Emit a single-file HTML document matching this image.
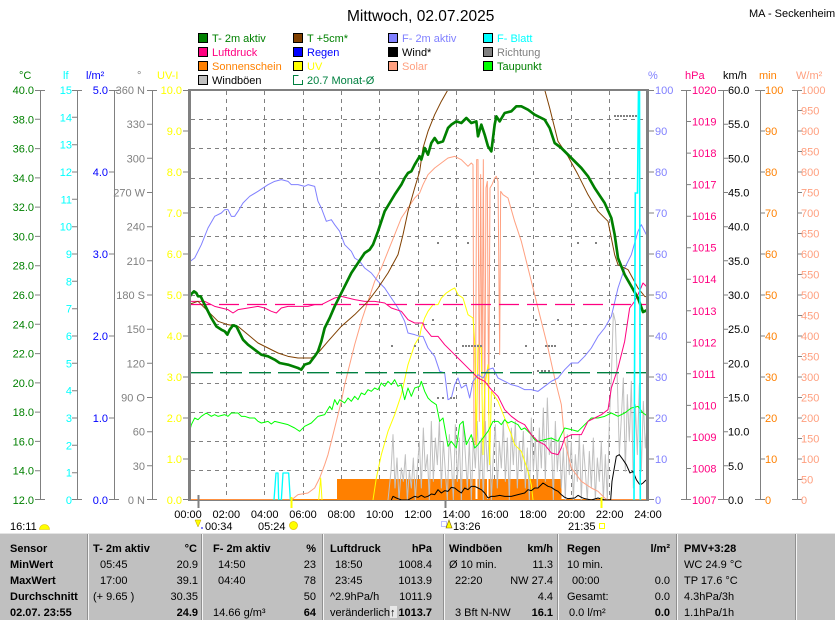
<!DOCTYPE html>
<html><head><meta charset="utf-8">
<style>
html,body{margin:0;padding:0;background:#fff;}
svg{display:block;}
text{font-family:"Liberation Sans",Arial,sans-serif;font-size:11px;}
.b{font-weight:bold;}
</style></head><body>
<svg width="835" height="620" viewBox="0 0 835 620" xmlns="http://www.w3.org/2000/svg">
<defs><clipPath id="pc"><rect x="191" y="91" width="455" height="409"/></clipPath></defs>
<rect width="835" height="620" fill="#fff"/>

<!-- Title -->
<text x="347" y="21" style="font-size:15.5px">Mittwoch, 02.07.2025</text>
<text x="749" y="17">MA - Seckenheim</text>

<!-- Legend -->
<g stroke="#000" stroke-width="1">
<rect x="198.5" y="33.5" width="9" height="9" fill="#008000"/>
<rect x="198.5" y="47.5" width="9" height="9" fill="#ff0080"/>
<rect x="198.5" y="61.5" width="9" height="9" fill="#ff8000"/>
<rect x="198.5" y="75.5" width="9" height="9" fill="#c0c0c0"/>
<rect x="293.5" y="33.5" width="9" height="9" fill="#804000"/>
<rect x="293.5" y="47.5" width="9" height="9" fill="#0000ff"/>
<rect x="293.5" y="61.5" width="9" height="9" fill="#ffff00"/>
<rect x="388.5" y="33.5" width="9" height="9" fill="#8080ff"/>
<rect x="388.5" y="47.5" width="9" height="9" fill="#000000"/>
<rect x="388.5" y="61.5" width="9" height="9" fill="#ffa080"/>
<rect x="483.5" y="33.5" width="9" height="9" fill="#00ffff"/>
<rect x="483.5" y="47.5" width="9" height="9" fill="#808080"/>
<rect x="483.5" y="61.5" width="9" height="9" fill="#00ff00"/>
</g>
<path d="M298.5 75.5H293.5V84.5H302.5V80" fill="none" stroke="#008040" stroke-width="1"/>
<text x="212" y="42" fill="#008000">T- 2m aktiv</text>
<text x="212" y="56" fill="#ff0080">Luftdruck</text>
<text x="212" y="70" fill="#ff8000">Sonnenschein</text>
<text x="212" y="84" fill="#000">Windböen</text>
<text x="307" y="42" fill="#008000">T +5cm*</text>
<text x="307" y="56" fill="#0000ff">Regen</text>
<text x="307" y="70" fill="#ffff00">UV</text>
<text x="307" y="84" fill="#008040">20.7 Monat-Ø</text>
<text x="402" y="42" fill="#8080ff">F- 2m aktiv</text>
<text x="402" y="56" fill="#000">Wind*</text>
<text x="402" y="70" fill="#ffa080">Solar</text>
<text x="497" y="42" fill="#00ffff">F- Blatt</text>
<text x="497" y="56" fill="#808080">Richtung</text>
<text x="497" y="70" fill="#008000">Taupunkt</text>

<!-- Units -->
<text x="19" y="79" fill="#008000">°C</text>
<text x="63" y="79" fill="#00ffff">lf</text>
<text x="86" y="79" fill="#0000ff">l/m²</text>
<text x="137" y="79" fill="#808080">°</text>
<text x="157" y="79" fill="#ffff00">UV-I</text>
<text x="648" y="79" fill="#8080ff">%</text>
<text x="685" y="79" fill="#ff0080">hPa</text>
<text x="723" y="79" fill="#000">km/h</text>
<text x="759" y="79" fill="#ff8000">min</text>
<text x="796" y="79" fill="#ffa080">W/m²</text>

<!-- Axis lines -->
<g stroke="#808080" stroke-width="1" fill="none">
<path d="M40.5 90V500M77.5 90V500M114.5 90V500M152.5 90V500M686.5 90V500M723.5 90V500M760.5 90V500M797.5 90V500"/>
<path d="M35 90.5H45M35 119.3H40M35 148.6H40M35 177.9H40M35 207.1H40M35 236.4H40M35 265.7H40M35 295H40M35 324.3H40M35 353.6H40M35 382.9H40M35 412.1H40M35 441.4H40M35 470.7H40M35 499.5H45"/>
<path d="M72 90.5H82M72 117.3H77M72 144.7H77M72 172H77M72 199.3H77M72 226.7H77M72 254H77M72 281.3H77M72 308.7H77M72 336H77M72 363.3H77M72 390.7H77M72 418H77M72 445.3H77M72 472.7H77M72 499.5H82"/>
<path d="M109 90.5H119M109 172H114M109 254H114M109 336H114M109 418H114M109 499.5H119"/>
<path d="M147 90.5H157M147 124.2H152M147 158.3H152M147 192.5H152M147 226.7H152M147 260.8H152M147 295H152M147 329.2H152M147 363.3H152M147 397.5H152M147 431.7H152M147 465.8H152M147 499.5H157"/>
<path d="M183 90.5H188M183 131H188M183 172H188M183 213H188M183 254H188M183 295H188M183 336H188M183 377H188M183 418H188M183 459H188M183 499.5H188"/>
<path d="M648 90.5H654M649 131H654M649 172H654M649 213H654M649 254H654M649 295H654M649 336H654M649 377H654M649 418H654M649 459H654M648 499.5H654"/>
<path d="M681 90.5H691M686 121.5H691M686 153.1H691M686 184.6H691M686 216.2H691M686 247.7H691M686 279.2H691M686 310.8H691M686 342.3H691M686 373.8H691M686 405.4H691M686 436.9H691M686 468.5H691M681 499.5H691"/>
<path d="M718 90.5H728M723 124.2H728M723 158.3H728M723 192.5H728M723 226.7H728M723 260.8H728M723 295H728M723 329.2H728M723 363.3H728M723 397.5H728M723 431.7H728M723 465.8H728M718 499.5H728"/>
<path d="M755 90.5H765M760 131H765M760 172H765M760 213H765M760 254H765M760 295H765M760 336H765M760 377H765M760 418H765M760 459H765M755 499.5H765"/>
<path d="M792 90.5H802M797 110.5H802M797 131H802M797 151.5H802M797 172H802M797 192.5H802M797 213H802M797 233.5H802M797 254H802M797 274.5H802M797 295H802M797 315.5H802M797 336H802M797 356.5H802M797 377H802M797 397.5H802M797 418H802M797 438.5H802M797 459H802M797 479.5H802M792 499.5H802"/>
</g>

<!-- Left labels -->
<g fill="#008000" text-anchor="end">
<text x="34" y="94">40.0</text><text x="34" y="123.3">38.0</text><text x="34" y="152.6">36.0</text><text x="34" y="181.9">34.0</text><text x="34" y="211.1">32.0</text><text x="34" y="240.4">30.0</text><text x="34" y="269.7">28.0</text><text x="34" y="299">26.0</text><text x="34" y="328.3">24.0</text><text x="34" y="357.6">22.0</text><text x="34" y="386.9">20.0</text><text x="34" y="416.1">18.0</text><text x="34" y="445.4">16.0</text><text x="34" y="474.7">14.0</text><text x="34" y="504">12.0</text>
</g>
<g fill="#00ffff" text-anchor="end">
<text x="72" y="94">15</text><text x="72" y="121.3">14</text><text x="72" y="148.7">13</text><text x="72" y="176">12</text><text x="72" y="203.3">11</text><text x="72" y="230.7">10</text><text x="72" y="258">9</text><text x="72" y="285.3">8</text><text x="72" y="312.7">7</text><text x="72" y="340">6</text><text x="72" y="367.3">5</text><text x="72" y="394.7">4</text><text x="72" y="422">3</text><text x="72" y="449.3">2</text><text x="72" y="476.7">1</text><text x="72" y="504">0</text>
</g>
<g fill="#0000ff" text-anchor="end">
<text x="108" y="94">5.0</text><text x="108" y="176">4.0</text><text x="108" y="258">3.0</text><text x="108" y="340">2.0</text><text x="108" y="422">1.0</text><text x="108" y="504">0.0</text>
</g>
<g fill="#808080" text-anchor="end">
<text x="145" y="94">360 N</text><text x="145" y="128.2">330</text><text x="145" y="162.3">300</text><text x="145" y="196.5">270 W</text><text x="145" y="230.7">240</text><text x="145" y="264.8">210</text><text x="145" y="299">180 S</text><text x="145" y="333.2">150</text><text x="145" y="367.3">120</text><text x="145" y="401.5">90 O</text><text x="145" y="435.7">60</text><text x="145" y="469.8">30</text><text x="145" y="504">0  N</text>
</g>
<g fill="#ffff00" text-anchor="end">
<text x="182" y="94">10.0</text><text x="182" y="135">9.0</text><text x="182" y="176">8.0</text><text x="182" y="217">7.0</text><text x="182" y="258">6.0</text><text x="182" y="299">5.0</text><text x="182" y="340">4.0</text><text x="182" y="381">3.0</text><text x="182" y="422">2.0</text><text x="182" y="463">1.0</text><text x="182" y="504">0.0</text>
</g>

<!-- Right labels -->
<g fill="#8080ff">
<text x="655" y="94">100</text><text x="655" y="135">90</text><text x="655" y="176">80</text><text x="655" y="217">70</text><text x="655" y="258">60</text><text x="655" y="299">50</text><text x="655" y="340">40</text><text x="655" y="381">30</text><text x="655" y="422">20</text><text x="655" y="463">10</text><text x="655" y="504">0</text>
</g>
<g fill="#ff0080">
<text x="692" y="94">1020</text><text x="692" y="125.5">1019</text><text x="692" y="157.1">1018</text><text x="692" y="188.6">1017</text><text x="692" y="220.2">1016</text><text x="692" y="251.7">1015</text><text x="692" y="283.2">1014</text><text x="692" y="314.8">1013</text><text x="692" y="346.3">1012</text><text x="692" y="377.8">1011</text><text x="692" y="409.4">1010</text><text x="692" y="440.9">1009</text><text x="692" y="472.5">1008</text><text x="692" y="504">1007</text>
</g>
<g fill="#000">
<text x="728" y="94">60.0</text><text x="728" y="128.2">55.0</text><text x="728" y="162.3">50.0</text><text x="728" y="196.5">45.0</text><text x="728" y="230.7">40.0</text><text x="728" y="264.8">35.0</text><text x="728" y="299">30.0</text><text x="728" y="333.2">25.0</text><text x="728" y="367.3">20.0</text><text x="728" y="401.5">15.0</text><text x="728" y="435.7">10.0</text><text x="728" y="469.8">5.0</text><text x="728" y="504">0.0</text>
</g>
<g fill="#ff8000">
<text x="765" y="94">100</text><text x="765" y="135">90</text><text x="765" y="176">80</text><text x="765" y="217">70</text><text x="765" y="258">60</text><text x="765" y="299">50</text><text x="765" y="340">40</text><text x="765" y="381">30</text><text x="765" y="422">20</text><text x="765" y="463">10</text><text x="765" y="504">0</text>
</g>
<g fill="#ffa080">
<text x="801" y="94">1000</text><text x="801" y="114.5">950</text><text x="801" y="135">900</text><text x="801" y="155.5">850</text><text x="801" y="176">800</text><text x="801" y="196.5">750</text><text x="801" y="217">700</text><text x="801" y="237.5">650</text><text x="801" y="258">600</text><text x="801" y="278.5">550</text><text x="801" y="299">500</text><text x="801" y="319.5">450</text><text x="801" y="340">400</text><text x="801" y="360.5">350</text><text x="801" y="381">300</text><text x="801" y="401.5">250</text><text x="801" y="422">200</text><text x="801" y="442.5">150</text><text x="801" y="463">100</text><text x="801" y="483.5">50</text><text x="801" y="504">0</text>
</g>

<!-- Grid -->
<g stroke="#808080" stroke-width="1" stroke-dasharray="4 4" fill="none">
<path d="M191 119.5H646M191 148.5H646M191 178.5H646M191 207.5H646M191 236.5H646M191 265.5H646M191 295.5H646M191 324.5H646M191 353.5H646M191 383.5H646M191 412.5H646M191 441.5H646M191 470.5H646"/>
<path d="M226.5 91V499M264.5 91V499M303.5 91V499M341.5 91V499M379.5 91V499M418.5 91V499M456.5 91V499M494.5 91V499M533.5 91V499M571.5 91V499M609.5 91V499"/>
</g>

<!-- Series -->
<g clip-path="url(#pc)">
<rect x="337" y="479" width="138.5" height="21" fill="#ff8000"/>
<rect x="477.5" y="479" width="9.5" height="21" fill="#ff8000"/>
<rect x="488.5" y="479" width="73" height="21" fill="#ff8000"/>
<line x1="190" y1="499.5" x2="647" y2="499.5" stroke="#ff8000" stroke-width="1"/>
<g transform="translate(188 88) scale(0.3333333)" fill="none" stroke-linejoin="round" stroke-width="3">
<polyline stroke="#c0c0c0" points="600,1236 609,1150 615,1040 621,1200 627,1110 633,1236 640,1140 646,1180 652,1100 658,1236 664,1150 670,1200 676,1110 682,1236 688,1140 694,1060 700,1200 706,1020 712,1150 718,1100 724,1236 730,1000 736,1180 742,1050 748,1130 754,1000 760,1200 766,1060 772,1150 778,1236 784,1040 790,1120 796,1236 802,1010 808,1180 814,1050 820,1236 826,1000 832,1100 838,1200 844,1060 850,1236 856,1050 862,1140 868,1000 874,1200 880,1050 886,1236 892,1000 898,1150 904,1030 910,1236 916,1100 922,1010 928,1200 934,1060 940,1140 946,1000 952,1180 958,1050 964,1236 970,1020 976,1130 982,1000 988,1200 994,1060 1000,1150 1006,1030 1012,1200 1018,1080 1024,1236 1030,990 1036,1150 1042,1050 1048,1200 1054,1020 1060,1140 1066,960 1072,1180 1078,930 1084,1100 1090,1050 1096,1236 1102,1000 1108,1150 1114,1050 1120,1200 1126,1080 1132,1236 1138,1040 1144,1160 1150,1060 1156,1236 1162,1100 1168,1180 1174,1040 1180,1236 1186,1070 1192,1150 1198,1236 1204,1090 1210,1200 1216,1050 1222,1236 1228,1110 1234,1180 1240,1060 1246,1236 1252,1100 1258,1236 1264,1000 1270,870 1276,675 1282,700 1288,880 1294,1100 1300,990 1306,870 1312,1150 1318,920 1324,1060 1330,880 1336,1200 1342,950 1348,1100 1354,890 1360,1150 1366,940 1372,1080 1378,1000 1384,1100"/>
<polyline stroke="#ffa080" points="0,1236 310,1236 330,1220 360,1215 380,1200 395,1170 410,1130 420,1100 430,1060 440,1020 450,980 460,940 470,890 480,850 500,770 520,700 540,640 560,580 580,540 600,490 620,440 640,390 660,360 680,330 695,315 705,290 720,260 740,240 760,225 780,210 800,205 820,215 840,235 850,225 855,230 858,1070 862,1070 866,215 870,215 874,1000 878,260 882,920 886,215 890,1050 894,300 898,280 902,980 906,300 912,290 920,270 925,265 930,280 935,800 938,310 945,320 960,330 980,400 1000,460 1020,540 1040,620 1060,700 1080,780 1100,870 1120,950 1130,1060 1150,1140 1180,1180 1210,1200 1230,1210 1250,1230 1260,1236 1385,1236"/>
<polyline stroke="#ffff00" points="392,1236 398,1170 402,1236"/>
<polyline stroke="#ffff00" points="555,1236 565,1170 580,1100 600,1030 620,980 640,920 660,830 680,770 695,745 700,720 710,690 720,670 735,650 750,650 760,630 775,615 790,605 800,600 810,620 825,630 840,680 855,690 860,760 865,1070 870,770 880,780 885,1100 890,900 900,830 905,1130 910,910 930,940 950,990 970,1040 980,1070 1000,1090 1010,1120 1020,1150 1030,1190 1035,1236"/>
<polyline stroke="#00ffff" stroke-width="4" points="258,1236 264,1155 270,1155 272,1236 280,1236 285,1155 302,1155 307,1236"/>
<polyline stroke="#00ff00" points="0,1050 10,1010 20,990 30,995 40,985 55,975 70,985 80,980 90,985 110,980 120,985 130,975 150,975 160,985 170,985 185,990 200,990 210,1000 220,1005 240,1000 250,1008 260,1000 280,1005 300,1010 320,1020 335,1030 350,1015 370,1005 390,985 410,980 425,955 432,965 440,935 448,950 455,935 470,945 480,930 490,940 500,925 510,935 520,915 530,920 540,905 550,910 560,900 570,905 580,885 590,895 600,880 610,890 620,875 630,895 640,890 650,935 660,900 670,925 680,900 695,895 700,880 710,910 720,930 730,940 745,950 755,1000 765,990 780,1075 790,1060 805,1080 815,1010 825,1000 835,1070 850,1040 860,1080 870,1070 885,1050 900,1030 915,1000 930,1000 940,1010 950,995 960,1005 970,1000 990,1010 1000,1025 1010,1020 1030,1040 1040,1055 1050,1060 1070,1055 1090,1050 1110,1060 1130,1020 1150,1025 1170,1030 1190,1010 1210,990 1230,990 1250,985 1270,975 1290,985 1310,975 1330,960 1350,955 1365,975 1380,985"/>
<polyline stroke="#8080ff" points="0,525 20,510 40,470 60,420 80,385 100,375 110,365 120,365 130,385 140,385 150,370 165,345 185,325 210,310 240,290 260,280 280,275 300,280 310,290 330,290 350,295 360,290 380,295 390,340 400,360 415,400 430,395 440,410 455,430 470,470 490,490 500,510 515,520 530,540 550,555 570,580 590,600 610,630 630,660 650,700 660,735 680,740 695,745 705,745 720,780 740,805 755,850 770,855 780,935 790,930 800,890 810,870 820,900 835,890 845,930 855,880 870,860 885,870 900,845 915,840 930,870 950,880 970,890 990,895 1010,905 1030,905 1050,910 1070,895 1090,880 1110,870 1130,845 1150,825 1170,825 1190,805 1210,780 1230,745 1250,720 1270,685 1290,600 1310,540 1330,500 1350,430 1360,410 1375,440"/>
<polyline stroke="#ff0080" points="0,640 20,640 50,640 80,655 100,660 120,665 135,675 150,665 180,660 210,655 230,660 250,670 265,675 280,660 300,655 330,655 360,655 380,650 400,650 420,640 440,630 460,625 480,630 500,635 530,640 560,640 590,645 610,660 640,670 660,695 680,705 705,705 710,720 730,745 750,745 770,770 790,790 810,810 830,830 850,850 870,870 890,880 910,905 930,925 950,965 970,985 990,1000 1010,1010 1030,1040 1050,1060 1070,1070 1090,1095 1110,1100 1120,1080 1130,1050 1150,1040 1180,1040 1200,1000 1220,990 1240,980 1260,965 1270,900 1290,840 1310,760 1325,660 1340,640 1350,620 1365,585 1380,600"/>
</g>
<line x1="191" y1="304.5" x2="646" y2="304.5" stroke="#ff0080" stroke-width="1.3" stroke-dasharray="20 8"/>
<line x1="191" y1="372.7" x2="646" y2="372.7" stroke="#008040" stroke-width="1.3" stroke-dasharray="22 7"/>
<g transform="translate(188 88) scale(0.3333333)" fill="none" stroke-linejoin="round">
<polyline stroke="#804000" stroke-width="3" points="0,650 30,640 60,670 90,700 120,710 150,715 180,740 210,765 240,780 270,795 300,805 330,810 370,810 390,795 420,760 460,715 500,680 540,640 570,600 600,555 630,500 645,440 660,370 680,300 695,250 705,180 720,130 740,80 760,40 780,5 800,-40 1060,-40 1070,5 1085,60 1110,160 1140,205 1170,260 1200,320 1230,370 1260,400 1270,450 1280,500 1290,530 1320,545 1350,600 1370,625 1385,630"/>
<polyline stroke="#008000" stroke-width="8" points="0,640 8,620 18,610 25,615 30,625 38,625 45,640 55,660 70,690 85,715 100,725 110,730 118,740 125,725 135,712 145,715 155,735 165,755 180,770 200,785 220,800 240,805 260,815 275,825 300,830 330,840 340,845 350,830 365,825 380,805 390,790 400,760 410,720 425,690 440,655 455,625 470,595 490,555 510,525 530,495 545,485 555,470 570,430 580,400 590,370 605,345 620,320 640,290 650,270 660,255 670,250 680,230 695,205 700,215 710,180 720,200 730,165 740,150 750,165 765,160 780,120 790,110 805,100 820,105 835,90 850,105 865,100 870,145 880,110 890,140 900,175 910,190 920,110 925,85 935,100 950,75 970,70 985,55 1000,55 1020,65 1040,80 1070,95 1085,120 1100,165 1120,180 1150,210 1180,240 1200,265 1220,300 1250,345 1270,390 1280,440 1290,510 1310,560 1330,595 1350,630 1365,672 1380,665"/>
<polyline stroke="#000" stroke-width="3" points="610,1236 615,1225 625,1230 640,1236 660,1236 680,1225 690,1228 700,1222 710,1228 720,1225 730,1218 740,1220 750,1205 760,1215 770,1208 780,1210 790,1198 800,1200 810,1208 820,1215 830,1200 840,1205 850,1195 860,1195 870,1200 880,1205 890,1215 900,1230 910,1225 920,1225 935,1222 950,1225 970,1225 990,1220 1010,1215 1020,1205 1030,1208 1040,1200 1050,1200 1065,1185 1080,1195 1090,1198 1100,1205 1110,1210 1120,1220 1130,1228 1140,1232 1160,1230 1170,1222 1180,1228 1190,1232 1210,1236 1230,1230 1250,1236 1268,1236 1272,1180 1285,1105 1294,1100 1305,1115 1315,1130 1326,1155 1335,1150 1345,1175 1356,1191 1365,1185 1374,1176"/>
</g>
<polyline fill="none" stroke="#00ffff" stroke-width="1.6" points="634,500 635.3,193 637.5,193 638.5,90 639.5,90 640.3,500"/>
<g fill="#808080">
<rect x="391" y="345" width="2" height="2"/><rect x="414" y="345" width="2" height="2"/>
<rect x="437" y="242" width="2" height="2"/><rect x="467" y="242" width="2" height="2"/><rect x="577" y="242" width="2" height="2"/><rect x="595" y="242" width="2" height="2"/>
<rect x="432" y="319" width="2" height="2"/><rect x="535" y="319" width="2" height="2"/><rect x="557" y="319" width="2" height="2"/>
<rect x="462" y="345" width="2" height="2"/><rect x="465" y="345" width="2" height="2"/><rect x="468" y="345" width="2" height="2"/><rect x="471" y="345" width="2" height="2"/><rect x="474" y="345" width="2" height="2"/><rect x="477" y="345" width="2" height="2"/><rect x="480" y="345" width="2" height="2"/>
<rect x="525" y="345" width="2" height="2"/><rect x="545" y="345" width="2" height="2"/><rect x="548" y="345" width="2" height="2"/><rect x="551" y="345" width="2" height="2"/><rect x="554" y="345" width="2" height="2"/>
<rect x="437" y="397" width="2" height="2"/><rect x="442" y="397" width="2" height="2"/><rect x="450" y="397" width="2" height="2"/><rect x="453" y="397" width="2" height="2"/>
<rect x="537" y="370" width="2" height="2"/><rect x="541" y="370" width="2" height="2"/><rect x="544" y="370" width="2" height="2"/><rect x="548" y="370" width="2" height="2"/>
<rect x="614" y="115" width="2" height="2"/><rect x="617" y="115" width="2" height="2"/><rect x="620" y="115" width="2" height="2"/><rect x="623" y="115" width="2" height="2"/><rect x="626" y="115" width="2" height="2"/><rect x="629" y="115" width="2" height="2"/><rect x="632" y="115" width="2" height="2"/><rect x="635" y="115" width="2" height="2"/>
</g>
</g>

<!-- Plot border -->
<rect x="188" y="89" width="461" height="2" fill="#808080"/>
<rect x="188" y="89" width="3" height="412" fill="#808080"/>
<rect x="646" y="89" width="3" height="412" fill="#808080"/>
<rect x="191" y="500" width="455" height="1" fill="#808080"/>

<!-- Markers -->
<line x1="198.5" y1="495" x2="198.5" y2="508" stroke="#808080" stroke-width="2"/>
<line x1="445.5" y1="500" x2="445.5" y2="508" stroke="#808080" stroke-width="2"/>
<line x1="291.5" y1="497" x2="291.5" y2="508" stroke="#ffff00" stroke-width="2"/>
<line x1="601.5" y1="497" x2="601.5" y2="508" stroke="#ffff00" stroke-width="2"/>

<!-- X labels -->
<g text-anchor="middle">
<text x="188" y="518">00:00</text><text x="226.3" y="518">02:00</text><text x="264.7" y="518">04:00</text><text x="303" y="518">06:00</text><text x="341.3" y="518">08:00</text><text x="379.7" y="518">10:00</text><text x="418" y="518">12:00</text><text x="456.3" y="518">14:00</text><text x="494.7" y="518">16:00</text><text x="533" y="518">18:00</text><text x="571.3" y="518">20:00</text><text x="609.7" y="518">22:00</text><text x="648" y="518">24:00</text>
</g>
<polygon points="195,520 201,520 198,527" fill="#ffff00" stroke="#c0a000" stroke-width="0.5"/>
<rect x="201" y="527" width="2" height="2" fill="#8080ff"/>
<text x="205" y="530">00:34</text>
<text x="258" y="530">05:24</text>
<circle cx="293.5" cy="525.5" r="4" fill="#ffff00" stroke="#e0c000" stroke-width="0.7"/>
<rect x="441.5" y="521.5" width="5" height="5" fill="none" stroke="#8080ff" stroke-dasharray="1 1"/>
<polygon points="446,528 449,520 452,528" fill="#ffff00" stroke="#806000" stroke-width="0.6"/>
<text x="453" y="530">13:26</text>
<text x="568" y="530">21:35</text>
<rect x="599.5" y="523.5" width="5" height="5" fill="none" stroke="#ffff00"/>
<text x="10" y="530">16:11</text>
<path d="M39.5 529.5A5 5 0 0 1 49.5 529.5Z" fill="#ffff00" stroke="#e0c000" stroke-width="0.6"/>

<!-- Table -->
<rect x="0" y="533" width="835" height="87" fill="#c0c0c0"/>
<line x1="0" y1="533.5" x2="835" y2="533.5" stroke="#e4e4e4"/>
<g>
<rect x="87" y="534" width="1" height="86" fill="#909090"/><rect x="88" y="534" width="1" height="86" fill="#f4f4f4"/>
<rect x="201" y="534" width="1" height="86" fill="#909090"/><rect x="202" y="534" width="1" height="86" fill="#f4f4f4"/>
<rect x="322" y="534" width="1" height="86" fill="#909090"/><rect x="323" y="534" width="1" height="86" fill="#f4f4f4"/>
<rect x="443" y="534" width="1" height="86" fill="#909090"/><rect x="444" y="534" width="1" height="86" fill="#f4f4f4"/>
<rect x="557" y="534" width="1" height="86" fill="#909090"/><rect x="558" y="534" width="1" height="86" fill="#f4f4f4"/>
<rect x="676" y="534" width="1" height="86" fill="#909090"/><rect x="677" y="534" width="1" height="86" fill="#f4f4f4"/>
<rect x="795" y="534" width="1" height="86" fill="#909090"/><rect x="796" y="534" width="1" height="86" fill="#f4f4f4"/>
</g>
<g class="b">
<text x="10" y="552">Sensor</text><text x="10" y="568">MinWert</text><text x="10" y="584">MaxWert</text><text x="10" y="600">Durchschnitt</text><text x="10" y="616">02.07. 23:55</text>
<text x="93" y="552">T- 2m aktiv</text><text x="197" y="552" text-anchor="end">°C</text>
<text x="213" y="552">F- 2m aktiv</text><text x="316" y="552" text-anchor="end">%</text>
<text x="330" y="552">Luftdruck</text><text x="432" y="552" text-anchor="end">hPa</text>
<text x="449" y="552">Windböen</text><text x="553" y="552" text-anchor="end">km/h</text>
<text x="567" y="552">Regen</text><text x="670" y="552" text-anchor="end">l/m²</text>
<text x="684" y="552">PMV+3:28</text>
<text x="198" y="616" text-anchor="end">24.9</text>
<text x="316" y="616" text-anchor="end">64</text>
<text x="432" y="616" text-anchor="end">1013.7</text>
<text x="553" y="616" text-anchor="end">16.1</text>
<text x="670" y="616" text-anchor="end">0.0</text>
</g>
<g>
<text x="100" y="568">05:45</text><text x="198" y="568" text-anchor="end">20.9</text>
<text x="100" y="584">17:00</text><text x="198" y="584" text-anchor="end">39.1</text>
<text x="93" y="600">(+ 9.65 )</text><text x="198" y="600" text-anchor="end">30.35</text>
<text x="218" y="568">14:50</text><text x="316" y="568" text-anchor="end">23</text>
<text x="218" y="584">04:40</text><text x="316" y="584" text-anchor="end">78</text>
<text x="316" y="600" text-anchor="end">50</text>
<text x="213" y="616">14.66 g/m³</text>
<text x="335" y="568">18:50</text><text x="432" y="568" text-anchor="end">1008.4</text>
<text x="335" y="584">23:45</text><text x="432" y="584" text-anchor="end">1013.9</text>
<text x="330" y="600">^2.9hPa/h</text><text x="432" y="600" text-anchor="end">1011.9</text>
<text x="330" y="616" textLength="60" lengthAdjust="spacingAndGlyphs">veränderlich</text>
<rect x="390" y="606" width="7" height="12" fill="#e8e8e8"/>
<text x="390" y="616" class="b" font-size="12">↑</text>
<text x="449" y="568">Ø 10 min.</text><text x="553" y="568" text-anchor="end">11.3</text>
<text x="455" y="584">22:20</text><text x="553" y="584" text-anchor="end">NW 27.4</text>
<text x="553" y="600" text-anchor="end">4.4</text>
<text x="455" y="616">3 Bft N-NW</text>
<text x="567" y="568">10 min.</text>
<text x="572" y="584">00:00</text><text x="670" y="584" text-anchor="end">0.0</text>
<text x="567" y="600">Gesamt:</text><text x="670" y="600" text-anchor="end">0.0</text>
<text x="569" y="616">0.0 l/m²</text>
<text x="684" y="568">WC 24.9 °C</text>
<text x="684" y="584">TP 17.6 °C</text>
<text x="684" y="600">4.3hPa/3h</text>
<text x="684" y="616">1.1hPa/1h</text>
</g>
</svg>
</body></html>
